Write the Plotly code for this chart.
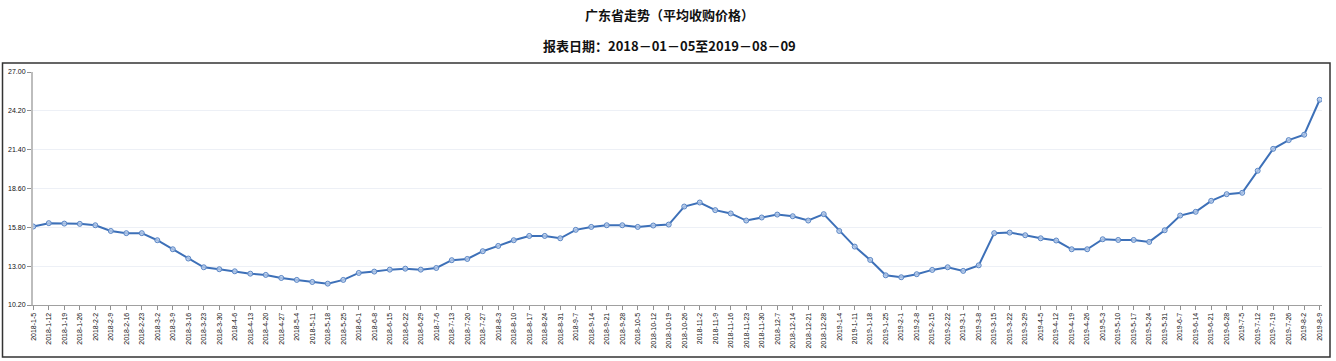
import plotly.graph_objects as go

dates = ["2018-1-5","2018-1-12","2018-1-19","2018-1-26","2018-2-2","2018-2-9","2018-2-16","2018-2-23",
"2018-3-2","2018-3-9","2018-3-16","2018-3-23","2018-3-30","2018-4-6","2018-4-13","2018-4-20","2018-4-27",
"2018-5-4","2018-5-11","2018-5-18","2018-5-25","2018-6-1","2018-6-8","2018-6-15","2018-6-22","2018-6-29",
"2018-7-6","2018-7-13","2018-7-20","2018-7-27","2018-8-3","2018-8-10","2018-8-17","2018-8-24","2018-8-31",
"2018-9-7","2018-9-14","2018-9-21","2018-9-28","2018-10-5","2018-10-12","2018-10-19","2018-10-26",
"2018-11-2","2018-11-9","2018-11-16","2018-11-23","2018-11-30","2018-12-7","2018-12-14","2018-12-21","2018-12-28",
"2019-1-4","2019-1-11","2019-1-18","2019-1-25","2019-2-1","2019-2-8","2019-2-15","2019-2-22",
"2019-3-1","2019-3-8","2019-3-15","2019-3-22","2019-3-29","2019-4-5","2019-4-12","2019-4-19","2019-4-26",
"2019-5-3","2019-5-10","2019-5-17","2019-5-24","2019-5-31","2019-6-7","2019-6-14","2019-6-21","2019-6-28",
"2019-7-5","2019-7-12","2019-7-19","2019-7-26","2019-8-2","2019-8-9"]

prices = [15.86,16.10,16.07,16.05,15.95,15.54,15.38,15.38,14.87,14.22,13.55,12.92,12.78,12.63,12.46,12.37,
12.15,12.01,11.86,11.74,12.01,12.51,12.61,12.75,12.82,12.75,12.87,13.43,13.52,14.08,14.46,14.87,15.18,15.18,
15.01,15.62,15.83,15.95,15.95,15.83,15.93,16.00,17.30,17.59,17.04,16.80,16.29,16.51,16.72,16.60,16.29,16.75,
15.54,14.41,13.45,12.34,12.20,12.42,12.73,12.92,12.66,13.06,15.38,15.42,15.23,15.01,14.85,14.22,14.22,14.94,
14.89,14.89,14.75,15.59,16.65,16.92,17.71,18.19,18.29,19.88,21.46,22.09,22.48,25.00]

y_ticks = [10.2, 13.0, 15.8, 18.6, 21.4, 24.2, 27.0]
y_tick_labels = ["10.20", "13.00", "15.80", "18.60", "21.40", "24.20", "27.00"]

title_text = "广东省走势（平均收购价格）"
subtitle_text = "报表日期：2018－01－05至2019－08－09"

idx = list(range(len(dates)))

fig = go.Figure()
fig.add_trace(go.Scatter(
    x=idx, y=prices, mode="lines+markers",
    line=dict(color="#3d70b8", width=2),
    marker=dict(size=5, color="rgba(185,205,235,0.8)", line=dict(color="#5a86c5", width=1)),
    hoverinfo="x+y", showlegend=False,
))

L, R, T, B = 33, 14, 72, 56
W, H = 1336, 361
pw = W - L - R
ph = H - T - B

def px_x(p):
    return (p - L) / pw

def px_y(p):
    return (H - B - p) / ph

fig.update_layout(
    width=W, height=H,
    margin=dict(l=L, r=R, t=T, b=B, pad=0, autoexpand=False),
    paper_bgcolor="white", plot_bgcolor="white",
    font=dict(family="Liberation Sans, Arial, sans-serif", color="#111"),
    xaxis=dict(
        range=[-0.02, 83.15], tickmode="array", tickvals=idx, ticktext=dates,
        tickangle=-90, tickfont=dict(size=7, color="#111"),
        showgrid=False, zeroline=False, automargin=False,
        showline=True, linecolor="#a0a0a0", linewidth=1,
        ticks="outside", ticklen=4, tickcolor="#909090",
    ),
    yaxis=dict(
        range=[10.2, 27.0], tickmode="array", tickvals=y_ticks, ticktext=y_tick_labels,
        tickfont=dict(size=7, color="#111"), automargin=False,
        showgrid=True, gridcolor="#edf0f6", gridwidth=1, zeroline=False,
        showline=True, linecolor="#bdbdbd", linewidth=2,
        ticks="outside", ticklen=4, tickcolor="#909090",
    ),
    annotations=[
        dict(text="<b>" + title_text + "</b>", xref="paper", yref="paper",
             x=px_x(669), y=px_y(15), showarrow=False, xanchor="center", yanchor="middle",
             font=dict(family="Noto Sans CJK SC", size=13, color="#111")),
        dict(text="<b>" + subtitle_text + "</b>", xref="paper", yref="paper",
             x=px_x(669), y=px_y(46), showarrow=False, xanchor="center", yanchor="middle",
             font=dict(family="Noto Sans CJK SC", size=13, color="#111")),
    ],
    shapes=[
        dict(type="rect", xref="paper", yref="paper",
             x0=px_x(2.5), x1=px_x(1330), y0=px_y(357), y1=px_y(63),
             line=dict(color="#333", width=1.5), fillcolor="rgba(0,0,0,0)", layer="below"),
    ],
)

fig.write_html("out.html", config={"displayModeBar": False},
               post_script="document.body.style.margin='0';document.body.style.overflow='hidden';")
